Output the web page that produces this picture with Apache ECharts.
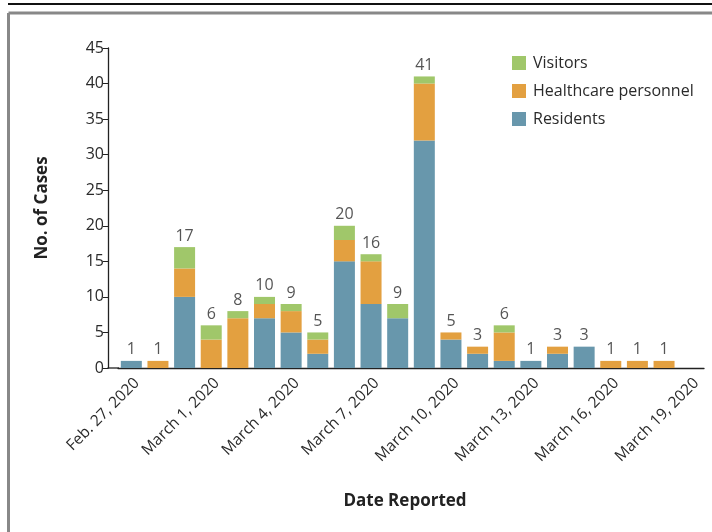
<!DOCTYPE html>
<html>
<head>
<meta charset="utf-8">
<script src="https://cdn.jsdelivr.net/npm/echarts@6/dist/echarts.min.js"></script>
<style>html,body{margin:0;padding:0;background:#fff;}#c{width:712px;height:532px;}</style>
</head>
<body>
<div id="c"></div>
<script>
const dates = ['Feb. 27, 2020','Feb. 28, 2020','Feb. 29, 2020','March 1, 2020','March 2, 2020','March 3, 2020','March 4, 2020','March 5, 2020','March 6, 2020','March 7, 2020','March 8, 2020','March 9, 2020','March 10, 2020','March 11, 2020','March 12, 2020','March 13, 2020','March 14, 2020','March 15, 2020','March 16, 2020','March 17, 2020','March 18, 2020','March 19, 2020'];
const residents  = [1,0,10,0,0,7,5,2,15,9,7,32,4,2,1,1,2,3,0,0,0,0];
const healthcare = [0,1,4,4,7,2,3,2,3,6,0,8,1,1,4,0,1,0,1,1,1,0];
const visitors   = [0,0,3,2,1,1,1,1,2,1,2,1,0,0,1,0,0,0,0,0,0,0];
const yTicks = [0,5,10,15,20,25,30,35,40,45];

const totals = dates.map((d,i)=>{const t=residents[i]+healthcare[i]+visitors[i];return t>0?t:null;});
const FONT = 'Open Sans';
const chart = echarts.init(document.getElementById('c'));
chart.setOption({
  backgroundColor:'#fff',
  textStyle:{fontFamily:FONT},
  animation:false,
  grid:{left:118,right:8,top:48,bottom:164,containLabel:false},
  legend:{
    data:['Visitors','Healthcare personnel','Residents'],
    orient:'vertical', left:507, top:50, itemWidth:14, itemHeight:14, itemGap:12,
    icon:'rect', textStyle:{fontSize:16,color:'#2a2a2a',fontFamily:FONT,padding:[0,0,0,2]}
  },
  xAxis:{
    type:'category', data:dates, boundaryGap:true,
    axisLine:{lineStyle:{color:'#222',width:1.3}},
    axisTick:{alignWithLabel:true, interval:2, length:6, lineStyle:{color:'#222'}},
    axisLabel:{interval:2, rotate:45, fontSize:15.5, color:'#2a2a2a', margin:7, verticalAlign:'top'},
    name:'Date Reported', nameLocation:'middle', nameGap:125,
    nameTextStyle:{fontSize:17,fontWeight:'bold',color:'#222',padding:[0,12,0,0]}
  },
  yAxis:{
    type:'value', min:0, max:45, interval:5, offset:10,
    axisLine:{show:true,lineStyle:{color:'#222',width:1.3}},
    axisTick:{show:true,length:5,lineStyle:{color:'#222'}},
    splitLine:{show:false},
    axisLabel:{fontSize:16,color:'#2a2a2a',margin:4,formatter:v=>yTicks.includes(v)?String(v):''},
    name:'No. of Cases', nameLocation:'middle', nameGap:57, nameRotate:90,
    nameTextStyle:{fontSize:17,fontWeight:'bold',color:'#222'}
  },
  series:[
    {name:'Residents',type:'bar',stack:'a',data:residents,barWidth:21,itemStyle:{color:'#6897ac'}},
    {name:'Healthcare personnel',type:'bar',stack:'a',data:healthcare,barWidth:21,itemStyle:{color:'#e3a040'}},
    {name:'Visitors',type:'bar',stack:'a',data:visitors,barWidth:21,itemStyle:{color:'#a0c76a'}},
    {name:'Total',type:'scatter',data:totals,symbolSize:0,silent:true,
     label:{show:true,position:'top',distance:3,fontSize:16,color:'#2a2a2a',formatter:p=>p.value==null?'':String(p.value)}}
  ],
  graphic:[
    {type:'line',shape:{x1:8,y1:4,x2:712,y2:4},style:{stroke:'#111',lineWidth:2}},
    {type:'line',shape:{x1:8.5,y1:13,x2:712,y2:13},style:{stroke:'#888',lineWidth:3}},
    {type:'line',shape:{x1:8.5,y1:13,x2:8.5,y2:532},style:{stroke:'#888',lineWidth:3}},
    {type:'line',shape:{x1:107.5,y1:368,x2:119,y2:368},style:{stroke:'#222',lineWidth:1.3}}
  ]
});
</script>
</body>
</html>
